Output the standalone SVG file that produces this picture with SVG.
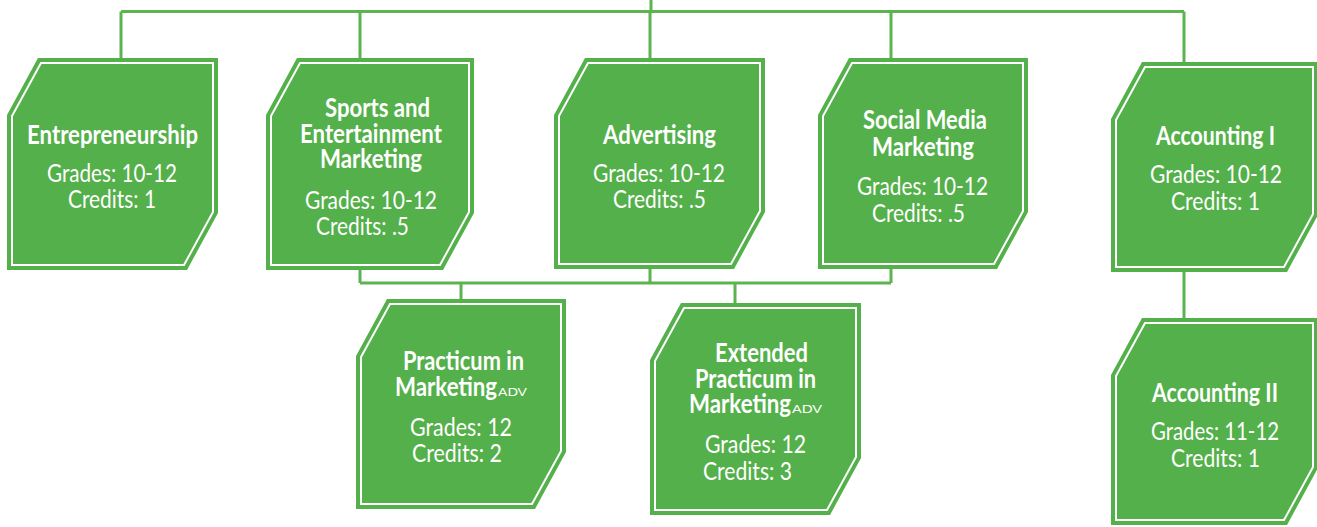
<svg xmlns="http://www.w3.org/2000/svg" width="1317" height="527" viewBox="0 0 1317 527">
<style>
.box{fill:#54B04A;}
.in{fill:none;stroke:#FFFFFF;stroke-width:2;}
.ln{stroke:#5BB450;stroke-width:3;fill:none;}
text{fill:#FFFFFF;font-family:Lato,"Liberation Sans",sans-serif;}
.t{font-weight:bold;font-size:27px;text-anchor:middle;}
.b{font-size:25px;text-anchor:middle;}
.ts{font-weight:bold;font-size:27px;}
.adv{font-size:11px;}
</style>
<rect width="1317" height="527" fill="#FFFFFF"/>
<g id="connectors">
<path class="ln" d="M651 0V11.5M121 11.5H1184M121 11.5V58M360 11.5V58M650 11.5V58M891 11.5V58M1184 11.5V62"/>
<path class="ln" d="M360 270V283M650 269V283M891 269V283M360 283H891M461 283V299M735 283V303M1184 272V318"/>
</g>
<g id="entrepreneurship">
<polygon class="box" points="38,58 218,58 218,213 187,270 7,270 7,115"/>
<polygon class="in" points="41,63 213,63 213,212 184,265 12,265 12,116"/>
<text class="t" x="112.5" y="144" textLength="171" lengthAdjust="spacingAndGlyphs">Entrepreneurship</text>
<text class="b" x="112" y="182" textLength="130" lengthAdjust="spacingAndGlyphs">Grades: 10-12</text>
<text class="b" x="112" y="208" textLength="88" lengthAdjust="spacingAndGlyphs">Credits: 1</text>
</g>
<g id="sports">
<polygon class="box" points="297,58 474,58 474,213 443,270 266,270 266,115"/>
<polygon class="in" points="300,63 469,63 469,212 440,265 271,265 271,116"/>
<text class="t" x="377.5" y="117" textLength="105" lengthAdjust="spacingAndGlyphs">Sports and</text>
<text class="t" x="371" y="143" textLength="142" lengthAdjust="spacingAndGlyphs">Entertainment</text>
<text class="t" x="371" y="168" textLength="102" lengthAdjust="spacingAndGlyphs">Marketing</text>
<text class="b" x="371" y="209" textLength="132" lengthAdjust="spacingAndGlyphs">Grades: 10-12</text>
<text class="b" x="362.5" y="235" textLength="93" lengthAdjust="spacingAndGlyphs">Credits: .5</text>
</g>
<g id="advertising">
<polygon class="box" points="585,58 765,58 765,212 734,269 554,269 554,115"/>
<polygon class="in" points="588,63 760,63 760,211 731,264 559,264 559,116"/>
<text class="t" x="659.5" y="144" textLength="113" lengthAdjust="spacingAndGlyphs">Advertising</text>
<text class="b" x="659" y="182" textLength="132" lengthAdjust="spacingAndGlyphs">Grades: 10-12</text>
<text class="b" x="659.5" y="208" textLength="93" lengthAdjust="spacingAndGlyphs">Credits: .5</text>
</g>
<g id="social-media">
<polygon class="box" points="849,58 1028,58 1028,212 997,269 818,269 818,115"/>
<polygon class="in" points="852,63 1023,63 1023,211 994,264 823,264 823,116"/>
<text class="t" x="925" y="129" textLength="124" lengthAdjust="spacingAndGlyphs">Social Media</text>
<text class="t" x="923" y="156" textLength="102" lengthAdjust="spacingAndGlyphs">Marketing</text>
<text class="b" x="922.5" y="195" textLength="131" lengthAdjust="spacingAndGlyphs">Grades: 10-12</text>
<text class="b" x="918.5" y="222" textLength="93" lengthAdjust="spacingAndGlyphs">Credits: .5</text>
</g>
<g id="accounting-1">
<polygon class="box" points="1142,62 1318,62 1318,215 1287,272 1111,272 1111,119"/>
<polygon class="in" points="1145,67 1313,67 1313,214 1284,267 1116,267 1116,120"/>
<text class="t" x="1215.5" y="145" textLength="119" lengthAdjust="spacingAndGlyphs">Accounting I</text>
<text class="b" x="1216" y="183" textLength="132" lengthAdjust="spacingAndGlyphs">Grades: 10-12</text>
<text class="b" x="1215.5" y="210" textLength="89" lengthAdjust="spacingAndGlyphs">Credits: 1</text>
</g>
<g id="accounting-2">
<polygon class="box" points="1142,318 1318,318 1318,468 1287,525 1111,525 1111,375"/>
<polygon class="in" points="1145,323 1313,323 1313,467 1284,520 1116,520 1116,376"/>
<text class="t" x="1215" y="402" textLength="126" lengthAdjust="spacingAndGlyphs">Accounting II</text>
<text class="b" x="1215" y="440" textLength="128" lengthAdjust="spacingAndGlyphs">Grades: 11-12</text>
<text class="b" x="1215.5" y="467" textLength="89" lengthAdjust="spacingAndGlyphs">Credits: 1</text>
</g>
<g id="practicum">
<polygon class="box" points="387,299 566,299 566,452 535,509 356,509 356,356"/>
<polygon class="in" points="390,304 561,304 561,451 532,504 361,504 361,357"/>
<text class="t" x="463.5" y="370" textLength="121" lengthAdjust="spacingAndGlyphs">Practicum in</text>
<text class="ts" x="395" y="396" textLength="102" lengthAdjust="spacingAndGlyphs">Marketing</text>
<text class="adv" x="498" y="396" textLength="29" lengthAdjust="spacingAndGlyphs">ADV</text>
<text class="b" x="461" y="436" textLength="102" lengthAdjust="spacingAndGlyphs">Grades: 12</text>
<text class="b" x="457" y="462" textLength="90" lengthAdjust="spacingAndGlyphs">Credits: 2</text>
</g>
<g id="extended-practicum">
<polygon class="box" points="681,303 861,303 861,458 830,515 650,515 650,360"/>
<polygon class="in" points="684,308 856,308 856,457 827,510 655,510 655,361"/>
<text class="t" x="761.5" y="362" textLength="93" lengthAdjust="spacingAndGlyphs">Extended</text>
<text class="t" x="755.5" y="388" textLength="121" lengthAdjust="spacingAndGlyphs">Practicum in</text>
<text class="ts" x="689" y="413" textLength="102" lengthAdjust="spacingAndGlyphs">Marketing</text>
<text class="adv" x="792" y="413" textLength="30" lengthAdjust="spacingAndGlyphs">ADV</text>
<text class="b" x="755.5" y="453" textLength="101" lengthAdjust="spacingAndGlyphs">Grades: 12</text>
<text class="b" x="747.5" y="480" textLength="89" lengthAdjust="spacingAndGlyphs">Credits: 3</text>
</g>
</svg>
